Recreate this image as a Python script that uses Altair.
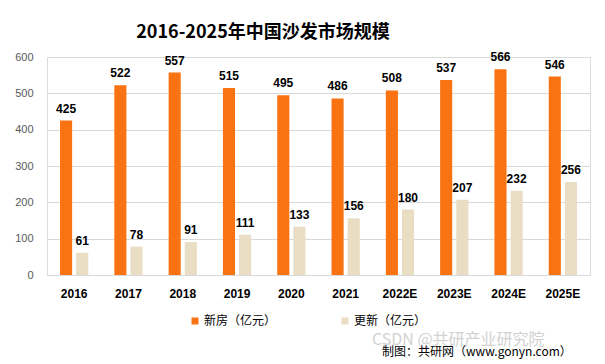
import altair as alt
import pandas as pd

years = ["2016", "2017", "2018", "2019", "2020", "2021", "2022E", "2023E", "2024E", "2025E"]
new_vals = [425, 522, 557, 515, 495, 486, 508, 537, 566, 546]
upd_vals = [61, 78, 91, 111, 133, 156, 180, 207, 232, 256]
series = ["新房（亿元）", "更新（亿元）"]
colors = ["#FA7313", "#E9DEC3"]
y_ticks = [0, 100, 200, 300, 400, 500, 600]
title_text = "2016-2025年中国沙发市场规模"
source_text = "制图：共研网（www.gonyn.com）"
watermark_text = "CSDN @共研产业研究院"

rows = []
for y, a, b in zip(years, new_vals, upd_vals):
    rows.append({"year": y, "series": series[0], "value": a})
    rows.append({"year": y, "series": series[1], "value": b})
df = pd.DataFrame(rows)

FONT = "Noto Sans CJK SC"
NUMFONT = "Liberation Sans"

x = alt.X("year:N", sort=years, title=None,
          scale=alt.Scale(paddingInner=0.48, paddingOuter=0.24),
          axis=alt.Axis(labelAngle=0, labelFont=NUMFONT, labelFontWeight="bold",
                        labelFontSize=12, labelColor="#000000", labelPadding=13,
                        ticks=False, domainColor="#d9d9d9"))
xo = alt.XOffset("series:N", sort=series, scale=alt.Scale(paddingInner=0.25, paddingOuter=0))
y = alt.Y("value:Q", title=None,
          scale=alt.Scale(domain=[0, 600], nice=False),
          axis=alt.Axis(values=y_ticks, tickCount=7, labelFont=NUMFONT,
                        labelFontSize=11, labelColor="#595959", labelPadding=14,
                        labelOverlap=False, ticks=False, domain=False, gridColor="#d9d9d9"))

bars = alt.Chart(df).mark_bar().encode(
    x=x, xOffset=xo, y=y,
    color=alt.Color("series:N", sort=series,
                    scale=alt.Scale(domain=series, range=colors),
                    legend=alt.Legend(title=None, orient="none", legendX=142, legendY=258,
                                      direction="horizontal", symbolType="square",
                                      symbolSize=49, symbolStrokeWidth=0,
                                      labelFont=FONT, labelFontSize=12, labelColor="#000000",
                                      labelOffset=3, columnPadding=62)),
)

labels = alt.Chart(df).mark_text(baseline="bottom", dy=-5, font=NUMFONT, fontSize=12,
                                 fontWeight="bold", color="#000000").encode(
    x=x, xOffset=xo, y=y, text="value:Q")

title = alt.Chart(pd.DataFrame({"t": [title_text]})).mark_text(
    font=FONT, fontSize=18, fontWeight="bold", color="#000000", align="center", baseline="middle"
).encode(x=alt.value(216), y=alt.value(-24), text="t:N")

source = alt.Chart(pd.DataFrame({"t": [source_text]})).mark_text(
    font=FONT, fontSize=12, color="#000000", align="left", baseline="middle"
).encode(x=alt.value(335), y=alt.value(295), text="t:N")

wm = alt.Chart(pd.DataFrame({"t": [watermark_text]})).mark_text(
    font=FONT, fontSize=16, color="#c8c8c8", opacity=0.8, align="left", baseline="middle"
).encode(x=alt.value(325), y=alt.value(283), text="t:N")

chart = alt.layer(bars, labels, title, wm, source).properties(
    width=543, height=218,
    autosize=alt.AutoSizeParams(type="none"),
    padding={"left": 39, "top": 49, "right": 7, "bottom": 86},
).configure_view(stroke=None).configure(background="#ffffff")

chart.save("out.html", embed_options={"renderer": "svg", "actions": False})
